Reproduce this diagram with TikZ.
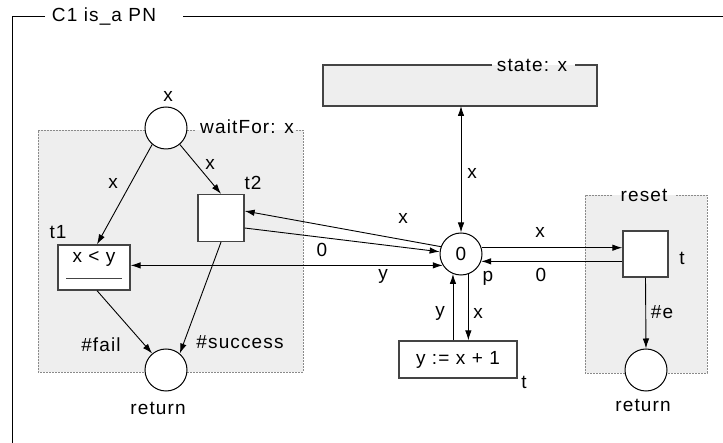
\documentclass[tikz,border=0pt]{standalone}
\usepackage{fontspec}
\setmainfont{Liberation Sans}[LetterSpace=6]
\usetikzlibrary{arrows.meta}
\definecolor{boxfill}{HTML}{EEEEEE}
\definecolor{edge}{HTML}{444444}
\definecolor{dashc}{HTML}{8A8A8A}
\begin{document}
\begin{tikzpicture}[x=1pt,y=-1pt,
  every node/.style={font=\fontsize{19}{21}\selectfont, inner sep=0pt},
  place/.style={circle, draw=black, line width=1pt, fill=white, minimum size=42pt},
  trans/.style={rectangle, draw=edge, line width=1.3pt, fill=white},
  arc/.style={line width=0.9pt, -{Latex[length=10pt,width=6.5pt]}},
  barc/.style={line width=0.9pt, {Latex[length=10pt,width=6.5pt]}-{Latex[length=10pt,width=6.5pt]}},
  grpborder/.style={draw=dashc, line width=0.9pt, dash pattern=on 2pt off 1pt},
  frameline/.style={draw=black, line width=0.9pt}]
\useasboundingbox (0,0) rectangle (723,443);
% outer frame
\node (frametitle) at (104,17) {C1 is\_a PN};
\draw[frameline] (45,16) -- (12,16) -- (12,443);
\draw[frameline] (183,16) -- (723,16);
% group boxes
\fill[boxfill] (38,130) rectangle (303,372);
\draw[grpborder] (145,130) -- (38,130) -- (38,372) -- (303,372) -- (303,130) -- (296,130);
\draw[grpborder] (187,130) -- (195,130);
\fill[boxfill] (585,195) rectangle (707,373);
\draw[grpborder] (612,195) -- (585,195) -- (585,373) -- (707,373) -- (707,195) -- (676,195);
% state box
\fill[boxfill] (323,65) rectangle (597,106);
\draw[draw=edge, line width=1.5pt] (492,65) -- (323,65) -- (323,106) -- (597,106) -- (597,65) -- (575,65);
\node (statelbl) at (532,65) {state: x};
\node (resetlbl) at (644,195) {reset};
% places
\node[place] (wait) at (166,128) {};
\node[place] (ret1) at (166,370) {};
\node[place] (p) at (461,254) {0};
\node[place] (ret2) at (646,370) {};
% transitions
\node[trans, minimum width=46pt, minimum height=47pt] (t2) at (221,218) {};
\node[trans, minimum width=72pt, minimum height=45pt] (t1) at (94,267.5) {};
\node (t1txt) at (94,259) {x < y};
\draw[line width=1.2pt, edge] ([xshift=9pt,yshift=-34pt]t1.north west) coordinate (ul1) -- ([xshift=-9pt,yshift=-34pt]t1.north east) coordinate (ul2);
\node[trans, minimum width=45pt, minimum height=46pt] (t) at (645.5,254) {};
\node[trans, minimum width=118pt, minimum height=37pt] (inc) at (458,359.5) {y := x + 1};
% arcs
\draw[arc] (wait.230) -- ([xshift=3pt]t1.north);
\draw[arc] (wait.-50) -- (t2.north);
\draw[arc] ([xshift=3pt]t1.south) -- (ret1.130);
\draw[arc] (t2.south) -- (ret1.50);
\draw[arc] (p.160) -- ([yshift=7pt]t2.east);
\draw[arc] ([yshift=-10pt]t2.east) -- (p.174);
\draw[barc] (t1.east |- p.212) -- (p.212);
\draw[barc] (p.north) -- (p.north |- 0,106) coordinate (statebot);
\draw[arc] (p.17) -- (p.17 -| t.west);
\draw[arc] (p.-20 -| t.west) -- (p.-20);
\draw[arc] (p.-70) -- (p.-70 |- inc.north);
\draw[arc] (p.-112 |- inc.north) -- (p.-112);
\draw[arc] (t.south) -- (ret2.north);
% labels
\node (l1) at (168,96) {x};
\node (l2) at (247,127) {waitFor: x};
\node (l3) at (253,183) {t2};
\node (l4) at (58,232) {t1};
\node (l5) at (113,183) {x};
\node (l6) at (210,164) {x};
\node (l7) at (101,345) {\#fail};
\node (l8) at (240,342) {\#success};
\node (l9) at (158,408) {return};
\node (l10) at (403,218) {x};
\node (l11) at (322,250) {0};
\node (l12) at (383,276) {y};
\node (l13) at (472,173) {x};
\node (l14) at (540,232) {x};
\node (l15) at (541,275) {0};
\node (l16) at (488,278) {p};
\node (l17) at (682,258) {t};
\node (l18) at (440,313) {y};
\node (l19) at (478,313) {x};
\node (l20) at (662,312) {\#e};
\node (l21) at (524,382) {t};
\node (l22) at (643,405) {return};
\end{tikzpicture}
\end{document}
